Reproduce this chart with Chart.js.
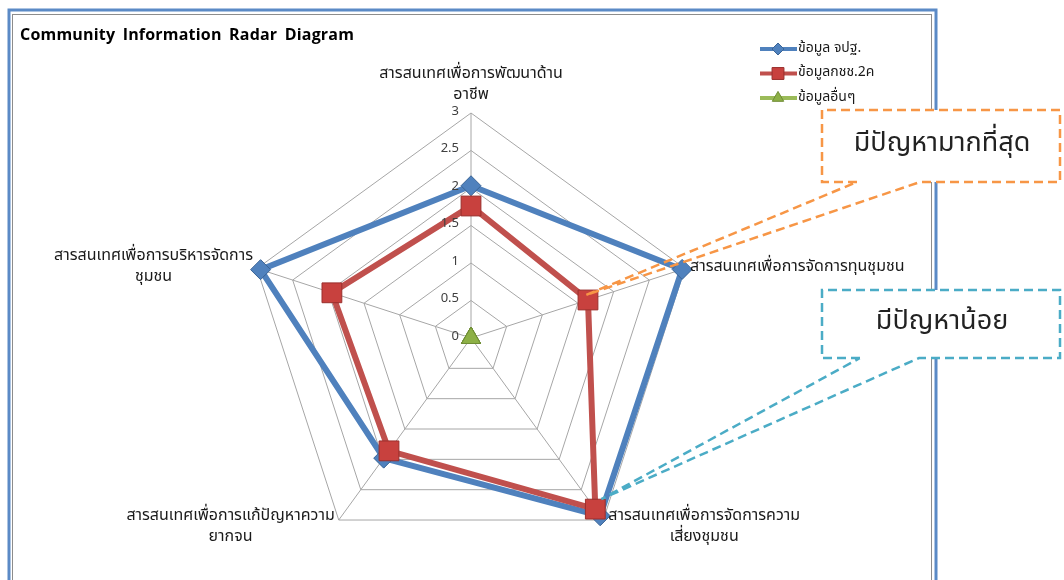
<!DOCTYPE html>
<html>
<head>
<meta charset="utf-8">
<script src="https://cdn.jsdelivr.net/npm/chart.js@4.4.1/dist/chart.umd.min.js"></script>
<style>
  body { margin: 0; background: #fff; }
  canvas { display: block; }
</style>
</head>
<body>
<canvas id="radarChart" width="1064" height="580"></canvas>
<script>
// data
const categories = [
  ["สารสนเทศเพื่อการพัฒนาด้าน", "อาชีพ"],
  ["สารสนเทศเพื่อการจัดการทุนชุมชน"],
  ["สารสนเทศเพื่อการจัดการความ", "เสี่ยงชุมชน"],
  ["สารสนเทศเพื่อการแก้ปัญหาความ", "ยากจน"],
  ["สารสนเทศเพื่อการบริหารจัดการ", "ชุมชน"]
];
const seriesNames = ["ข้อมูล จปฐ.", "ข้อมูลกชช.2ค", "ข้อมูลอื่นๆ"];
const jptValues = [2.03, 2.96, 2.93, 1.98, 2.95];
const kchchValues = [1.76, 1.64, 2.82, 1.86, 1.95];
const otherValues = [0, 0, 0, 0, 0];
const axisMin = 0;
const axisMax = 3;
const axisStep = 0.5;
const chartTitle = "Community Information Radar Diagram";
const calloutTexts = ["มีปัญหามากที่สุด", "มีปัญหาน้อย"];

const thaiFont = "Tahoma, 'Leelawadee UI', 'Noto Sans Thai', Loma, Garuda, 'Noto Sans', sans-serif";

// frame, title, legend, tick labels, point labels and callouts
const overlay = {
  id: "overlay",
  beforeDraw(chart) {
    const ctx = chart.ctx;
    ctx.save();
    // word frame
    ctx.strokeStyle = "#5b8ac6";
    ctx.lineWidth = 3;
    ctx.strokeRect(9, 10, 927, 600);
    // chart area border
    ctx.strokeStyle = "#8c8c8c";
    ctx.lineWidth = 1;
    ctx.strokeRect(12.5, 14.5, 919, 600);
    // title
    ctx.fillStyle = "#000";
    ctx.font = "bold 16px 'Open Sans', 'Liberation Sans', Arial, sans-serif";
    ctx.letterSpacing = "0.2px";
    ctx.wordSpacing = "3px";
    ctx.textBaseline = "middle";
    ctx.fillText(chartTitle, 20, 35);
    ctx.restore();
  },
  afterDraw(chart) {
    const ctx = chart.ctx;
    const scale = chart.scales.r;
    const cx = scale.xCenter, cy = scale.yCenter;
    ctx.save();

    // tick labels, left of the vertical axis
    ctx.font = "13px " + thaiFont;
    ctx.fillStyle = "#404040";
    ctx.textAlign = "right";
    ctx.textBaseline = "middle";
    scale.ticks.forEach((t) => {
      const d = scale.getDistanceFromCenterForValue(t.value);
      ctx.fillText(String(t.value), cx - 12, cy - d - 1);
    });

    // point labels
    ctx.font = "16px " + thaiFont;
    ctx.fillStyle = "#1a1a1a";
    ctx.textAlign = "center";
    const lh = 21;
    categories.forEach((lines, i) => {
      const v = scale.getPointPosition(i, scale.drawingArea);
      const w = Math.max(...lines.map((l) => ctx.measureText(l).width));
      const dx = v.x - cx, dy = v.y - cy;
      let midX, firstY;
      if (Math.abs(dx) < 5) {
        midX = v.x;
        firstY = v.y - 17 - (lines.length - 1) * lh;
      } else {
        midX = dx > 0 ? v.x + 5 + w / 2 : v.x - 4 - w / 2;
        firstY = dy < 0 ? v.y - (lines.length - 1) * lh / 2 - 1 : v.y - 3;
      }
      lines.forEach((l, k) => ctx.fillText(l, midX, firstY + k * lh));
    });

    // legend
    ctx.font = "14px " + thaiFont;
    ctx.textAlign = "left";
    chart.data.datasets.forEach((ds, i) => {
      const y = 49 + i * 24.5;
      ctx.strokeStyle = ds.borderColor;
      ctx.lineWidth = 4;
      ctx.beginPath();
      ctx.moveTo(760, y);
      ctx.lineTo(797, y);
      ctx.stroke();
      ctx.fillStyle = ds.pointBackgroundColor;
      ctx.strokeStyle = ds.pointBorderColor;
      ctx.lineWidth = 1;
      Chart.helpers.drawPoint(ctx, {
        pointStyle: ds.pointStyle,
        radius: ds.pointRadius * 0.6,
        rotation: 0,
        borderWidth: 1
      }, 778, y);
      ctx.fillStyle = "#1a1a1a";
      ctx.fillText(ds.label, 798, y);
    });

    // callouts
    const red = chart.getDatasetMeta(1).data;
    const callouts = [
      { box: [822, 110, 238, 72], base: [857, 920], tip: { x: red[1].x - 2, y: red[1].y - 5 }, color: "#f79646", text: calloutTexts[0], textX: 942 },
      { box: [822, 290, 238, 68], base: [860, 919], tip: { x: red[2].x + 6, y: red[2].y - 10 }, color: "#4bacc6", text: calloutTexts[1], textX: 942 }
    ];
    callouts.forEach((c) => {
      const [x, y, w, h] = c.box;
      ctx.fillStyle = "#fff";
      ctx.fillRect(x, y, w, h);
      ctx.strokeStyle = c.color;
      ctx.lineWidth = 2.5;
      ctx.setLineDash([9, 5]);
      ctx.beginPath();
      ctx.moveTo(c.base[0], y + h);
      ctx.lineTo(x, y + h);
      ctx.lineTo(x, y);
      ctx.lineTo(x + w, y);
      ctx.lineTo(x + w, y + h);
      ctx.lineTo(c.base[1], y + h);
      ctx.lineTo(c.tip.x, c.tip.y);
      ctx.lineTo(c.base[0], y + h);
      ctx.stroke();
      ctx.setLineDash([]);
      ctx.fillStyle = "#222";
      ctx.font = "27px " + thaiFont;
      ctx.textAlign = "center";
      ctx.fillText(c.text, c.textX, y + h / 2);
    });
    ctx.restore();
  }
};

const ctx = document.getElementById("radarChart").getContext("2d");
const radarChart = new Chart(ctx, {
  type: "radar",
  data: {
    labels: categories,
    datasets: [
      {
        label: seriesNames[0],
        data: jptValues,
        borderColor: "#4f81bd",
        borderWidth: 6,
        pointStyle: "rectRot",
        pointRadius: 10,
        pointBackgroundColor: "#4f81bd",
        pointBorderColor: "#3a6496",
        pointBorderWidth: 1,
        fill: false,
        order: 3
      },
      {
        label: seriesNames[1],
        data: kchchValues,
        borderColor: "#c0504d",
        borderWidth: 6,
        pointStyle: "rect",
        pointRadius: 14,
        pointBackgroundColor: "#c8413e",
        pointBorderColor: "#9a2f2c",
        pointBorderWidth: 1,
        fill: false,
        order: 2
      },
      {
        label: seriesNames[2],
        data: otherValues,
        borderColor: "#9bbb59",
        borderWidth: 6,
        pointStyle: "triangle",
        pointRadius: 11,
        pointBackgroundColor: "#8db046",
        pointBorderColor: "#6e8c34",
        pointBorderWidth: 1,
        fill: false,
        order: 1
      }
    ]
  },
  options: {
    responsive: false,
    animation: false,
    layout: {
      padding: { left: 246, right: 368, top: 113, bottom: 17 }
    },
    plugins: {
      legend: { display: false },
      tooltip: { enabled: false }
    },
    elements: {
      line: { tension: 0 }
    },
    scales: {
      r: {
        min: axisMin,
        max: axisMax,
        beginAtZero: true,
        ticks: { stepSize: axisStep, display: false },
        pointLabels: { display: false },
        grid: { color: "#a6a6a6", lineWidth: 1, circular: false },
        angleLines: { color: "#a6a6a6", lineWidth: 1 }
      }
    }
  },
  plugins: [overlay]
});
</script>
</body>
</html>
